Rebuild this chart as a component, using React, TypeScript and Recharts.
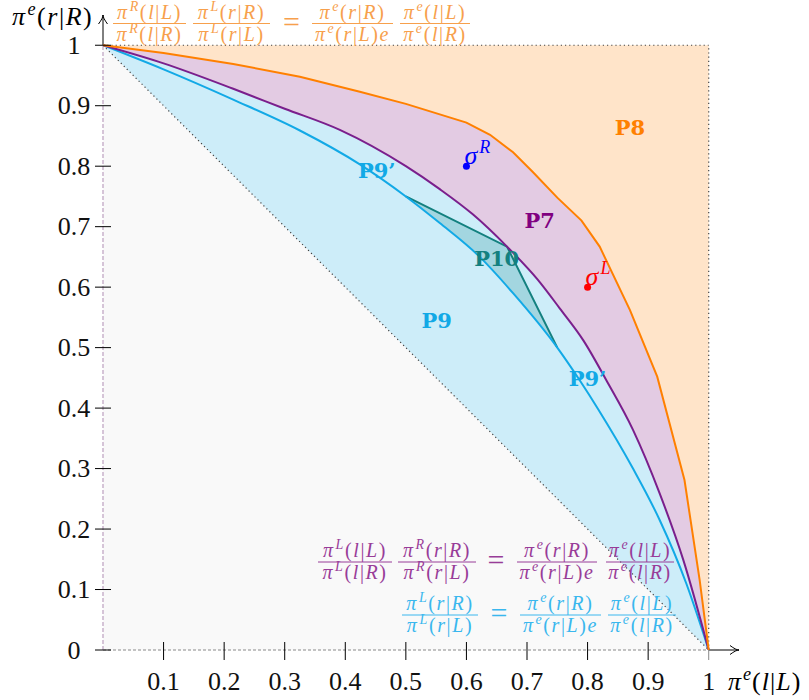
import React from 'react';
import { ComposedChart, Area, Line, XAxis, YAxis, ReferenceLine, ReferenceDot } from 'recharts';

// curves (x = pi^e(l|L), y = pi^e(r|R))
const orangeX = [0, 0.1, 0.215, 0.325, 0.424, 0.5, 0.6, 0.639, 0.677, 0.71, 0.75, 0.79, 0.82, 0.87, 0.915, 0.96, 0.985, 1];
const orangeY = [1, 0.987, 0.969, 0.948, 0.923, 0.903, 0.872, 0.852, 0.823, 0.79, 0.748, 0.71, 0.667, 0.562, 0.452, 0.281, 0.116, 0];
const purpleX = [0, 0.1, 0.215, 0.3, 0.391, 0.5, 0.556, 0.611, 0.667, 0.718, 0.754, 0.793, 0.831, 0.875, 0.919, 0.958, 1];
const purpleY = [1, 0.97, 0.928, 0.895, 0.86, 0.8, 0.762, 0.72, 0.667, 0.612, 0.565, 0.512, 0.446, 0.364, 0.259, 0.149, 0];
const blueX = [0, 0.1, 0.215, 0.325, 0.424, 0.5, 0.556, 0.622, 0.677, 0.75, 0.787, 0.817, 0.875, 0.919, 0.963, 1];
const blueY = [1, 0.96, 0.91, 0.859, 0.803, 0.75, 0.706, 0.65, 0.59, 0.5, 0.446, 0.399, 0.3, 0.215, 0.11, 0];
const p10X = [0.5, 0.667, 0.75];
const p10Y = [0.75, 0.667, 0.5];
const diagX = [0, 1];
const diagY = [1, 0];
const boxX = [0, 1];
const boxY = [1, 1];

const sigmaNames = ['R', 'L'];
const sigmaX = [0.6, 0.8];
const sigmaY = [0.8, 0.6];

const xTicks = [0.1, 0.2, 0.3, 0.4, 0.5, 0.6, 0.7, 0.8, 0.9, 1];
const yTicks = [0, 0.1, 0.2, 0.3, 0.4, 0.5, 0.6, 0.7, 0.8, 0.9, 1];

const series: Record<string, [number[], number[]]> = {
  box: [boxX, boxY],
  orange: [orangeX, orangeY],
  purple: [purpleX, purpleY],
  blue: [blueX, blueY],
  p10: [p10X, p10Y],
  diag: [diagX, diagY],
};

function buildRows() {
  const xs = Array.from(new Set(Object.values(series).flatMap(([sx]) => sx))).sort((a, b) => a - b);
  return xs.map((x) => {
    const row: any = { x };
    for (const [k, [sx, sy]] of Object.entries(series)) {
      const i = sx.indexOf(x);
      row[k] = i >= 0 ? sy[i] : null;
    }
    return row;
  });
}

const rows = buildRows();

const SERIF = "'Liberation Serif', serif";
const serif = { fontFamily: SERIF };
const ORANGE = '#ff8000';
const PURPLE = '#7a1f8c';
const BLUE = '#12a9e6';
const TEAL = '#13807f';

// turns "π^e(r|R)" into tspans: letters italic, ^X raised
function mathSpans(src: string, size: number) {
  const out: any[] = [];
  const chars = Array.from(src);
  let raised = false;
  for (let i = 0; i < chars.length; i++) {
    const c = chars[i];
    if (c === '^') {
      const s = chars[++i];
      out.push(
        <tspan key={i} fontStyle="italic" fontSize={size * 0.7} dy={-size * 0.38} dx={1}>
          {s}
        </tspan>
      );
      raised = true;
      continue;
    }
    const italic = /[a-zA-Zπσ]/.test(c);
    out.push(
      <tspan key={i} fontStyle={italic ? 'italic' : 'normal'} fontSize={size} dy={raised ? size * 0.38 : undefined}>
        {c}
      </tspan>
    );
    raised = false;
  }
  return out;
}

function Frac({ cx, y, w, num, den, color }: any) {
  const size = 20;
  return (
    <g fill={color}>
      <text x={cx} y={y - 5} textAnchor="middle" style={serif} fontSize={size} letterSpacing={1.6}>
        {mathSpans(num, size)}
      </text>
      <line x1={cx - w / 2} x2={cx + w / 2} y1={y} y2={y} stroke={color} strokeWidth={1} />
      <text x={cx} y={y + 17} textAnchor="middle" style={serif} fontSize={size} letterSpacing={1.6}>
        {mathSpans(den, size)}
      </text>
    </g>
  );
}

function Eq({ cx, y, color }: any) {
  return (
    <text x={cx} y={y + 8} textAnchor="middle" style={serif} fontSize={30} fill={color}>
      =
    </text>
  );
}

const XTick = ({ x, payload }: any) => (
  <g>
    <line x1={x} x2={x} y1={payload.value === 1 ? 650 : 642} y2={660} stroke={payload.value === 1 ? '#888' : '#000'} />
    <text x={x} y={690} textAnchor="middle" style={serif} fontSize={26} fill="#111">
      {String(payload.value)}
    </text>
  </g>
);

const YTick = ({ y, payload }: any) => (
  <g>
    <line x1={95} x2={111} y1={y} y2={y} stroke="#000" />
    <text x={74} y={y + 8.5} textAnchor="middle" style={serif} fontSize={26} fill="#111">
      {String(payload.value)}
    </text>
  </g>
);

const ArrowLine = (p: any) => {
  const { x1, y1, x2, y2 } = p;
  const a = Math.atan2(y2 - y1, x2 - x1);
  const c = Math.cos(a);
  const s = Math.sin(a);
  const bx = x2 - 9 * c;
  const by = y2 - 9 * s;
  const qx = x2 - 3 * c;
  const qy = y2 - 3 * s;
  return (
    <g>
      <line x1={x1} y1={y1} x2={x2} y2={y2} stroke="#000" strokeWidth={1} />
      <path
        d={`M${bx - s * 4.5},${by + c * 4.5} Q${qx},${qy} ${x2},${y2} Q${qx},${qy} ${bx + s * 4.5},${by - c * 4.5}`}
        fill="none"
        stroke="#000"
        strokeWidth={1}
      />
    </g>
  );
};

const regionLabel = (text: string, color: string) => (p: any) => (
  <text
    x={p.cx}
    y={p.cy + 8}
    textAnchor="middle"
    fill={color}
    style={{ fontFamily: "'DejaVu Serif', serif", fontWeight: 'bold' }}
    fontSize={21}
  >
    {text}
  </text>
);

const sigmaShape = (name: string, color: string) => (p: any) => (
  <g>
    <circle cx={p.cx} cy={p.cy} r={3.5} fill={color} />
    <text x={p.cx - 2} y={p.cy - 2} fill={color} style={serif} fontStyle="italic" fontSize={26}>
      σ
      <tspan fontSize={18} dy={-11} dx={2}>
        {name}
      </tspan>
    </text>
  </g>
);

const fillProps = { stroke: 'none', fillOpacity: 1, connectNulls: true, dot: false, activeDot: false, isAnimationActive: false };
const lineProps = { strokeWidth: 2, connectNulls: true, dot: false, activeDot: false, isAnimationActive: false };

export default function App() {
  const sigmaColors = ['#0000ff', '#ff0000'];
  return (
    <div style={{ position: 'absolute', left: 0, top: 0, width: 809, height: 700, background: '#fff' }}>
      <ComposedChart width={809} height={700} data={rows} margin={{ top: 15, right: 70, bottom: 10, left: 43 }}>
        <XAxis
          type="number"
          dataKey="x"
          domain={[0, 1.05]}
          ticks={xTicks}
          interval={0}
          height={40}
          axisLine={false}
          tickLine={false}
          tick={<XTick />}
          allowDataOverflow
        />
        <YAxis
          type="number"
          domain={[0, 1.05]}
          ticks={yTicks}
          interval={0}
          width={60}
          axisLine={false}
          tickLine={false}
          tick={<YTick />}
          allowDataOverflow
        />

        {/* fills, painted from the top region down */}
        <Area {...fillProps} type="linear" dataKey="box" fill="#ffe4c9" />
        <Area {...fillProps} type="linear" dataKey="orange" fill="#e3cbe3" />
        <Area {...fillProps} type="monotone" dataKey="purple" fill="#cdedf9" />
        <Area {...fillProps} type="linear" dataKey="p10" fill="#a3d6e0" />
        <Area {...fillProps} type="monotone" dataKey="blue" fill="#cdedf9" />
        <Area
          {...fillProps}
          type="linear"
          dataKey="diag"
          stroke="#444"
          strokeWidth={1.2}
          strokeDasharray="1.2 3"
          fill="#f9f9f9"
        />

        <ReferenceLine segment={[{ x: 0, y: 1 }, { x: 1, y: 1 }]} stroke="#444" strokeDasharray="1.2 3" strokeWidth={1.2} />
        <ReferenceLine segment={[{ x: 1, y: 0 }, { x: 1, y: 1 }]} stroke="#444" strokeDasharray="1.2 3" strokeWidth={1.2} />
        <ReferenceLine segment={[{ x: 0, y: 0 }, { x: 1, y: 0 }]} stroke="#888" strokeDasharray="3 2" strokeWidth={1} />
        <ReferenceLine segment={[{ x: 0, y: 0 }, { x: 0, y: 1 }]} stroke="#c9b3cb" strokeDasharray="4 2" strokeWidth={1.5} />
        <ReferenceLine segment={[{ x: 1, y: 0 }, { x: 1.05, y: 0 }]} shape={ArrowLine} />
        <ReferenceLine segment={[{ x: 0, y: 1 }, { x: 0, y: 1.05 }]} shape={ArrowLine} />

        <Line {...lineProps} type="linear" dataKey="p10" stroke={TEAL} />
        <Line {...lineProps} type="monotone" dataKey="blue" stroke={BLUE} />
        <Line {...lineProps} type="monotone" dataKey="purple" stroke={PURPLE} />
        <Line {...lineProps} type="linear" dataKey="orange" stroke={ORANGE} />

        <ReferenceDot x={0.87} y={0.864} r={0} shape={regionLabel('P8', ORANGE)} />
        <ReferenceDot x={0.721} y={0.711} r={0} shape={regionLabel('P7', '#800080')} />
        <ReferenceDot x={0.65} y={0.648} r={0} shape={regionLabel('P10', TEAL)} />
        <ReferenceDot x={0.551} y={0.545} r={0} shape={regionLabel('P9', BLUE)} />
        <ReferenceDot x={0.452} y={0.793} r={0} shape={regionLabel('P9’', BLUE)} />
        <ReferenceDot x={0.8} y={0.45} r={0} shape={regionLabel('P9’', BLUE)} />

        {sigmaNames.map((n, i) => (
          <ReferenceDot key={n} x={sigmaX[i]} y={sigmaY[i]} r={0} shape={sigmaShape(n, sigmaColors[i])} />
        ))}
      </ComposedChart>

      <svg width={809} height={700} style={{ position: 'absolute', left: 0, top: 0, pointerEvents: 'none' }}>
        <text x={12} y={25} style={serif} fontSize={26} letterSpacing={1.5} fill="#000">
          {mathSpans('π^e(r|R)', 26)}
        </text>
        <text x={728} y={690} style={serif} fontSize={26} letterSpacing={1} fill="#000">
          {mathSpans('π^e(l|L)', 26)}
        </text>

        <Frac cx={149.5} y={23.5} w={73} num="π^R(l|L)" den="π^R(l|R)" color="#f7a04c" />
        <Frac cx={231.5} y={23.5} w={77} num="π^L(r|R)" den="π^L(r|L)" color="#f7a04c" />
        <Eq cx={291.5} y={23.5} color="#f7a04c" />
        <Frac cx={352.5} y={23.5} w={81} num="π^e(r|R)" den="π^e(r|L)e" color="#f7a04c" />
        <Frac cx={435} y={23.5} w={70} num="π^e(l|L)" den="π^e(l|R)" color="#f7a04c" />

        <Frac cx={355} y={562} w={74} num="π^L(l|L)" den="π^L(l|R)" color="#983c98" />
        <Frac cx={437} y={562} w={78} num="π^R(r|R)" den="π^R(r|L)" color="#983c98" />
        <Eq cx={496} y={562} color="#983c98" />
        <Frac cx={557} y={562} w={80} num="π^e(r|R)" den="π^e(r|L)e" color="#983c98" />
        <Frac cx={640} y={562} w={68} num="π^e(l|L)" den="π^e(l|R)" color="#983c98" />

        <Frac cx={440} y={615} w={76} num="π^L(r|R)" den="π^L(r|L)" color="#3ab7ee" />
        <Eq cx={499} y={615} color="#3ab7ee" />
        <Frac cx={560.5} y={615} w={81} num="π^e(r|R)" den="π^e(r|L)e" color="#3ab7ee" />
        <Frac cx={642} y={615} w={68} num="π^e(l|L)" den="π^e(l|R)" color="#3ab7ee" />
      </svg>
    </div>
  );
}
